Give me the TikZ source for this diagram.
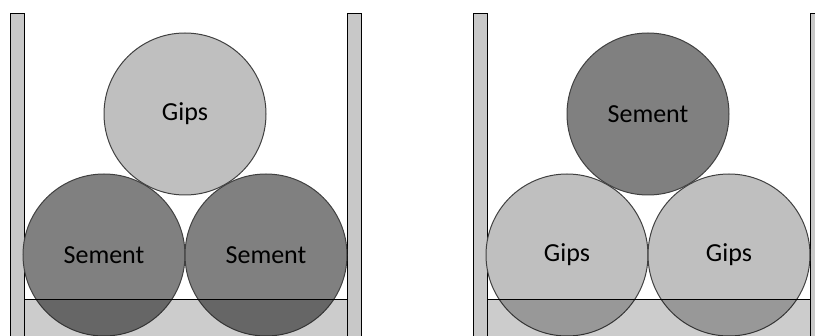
\documentclass[tikz,border=0pt]{standalone}
\usepackage{fontspec}
\setmainfont{Carlito}
\usetikzlibrary{positioning}
\definecolor{wallgray}{RGB}{200,200,200}
\definecolor{sementgray}{RGB}{128,128,128}
\definecolor{gipsgray}{RGB}{191,191,191}
\definecolor{rimgray}{RGB}{64,64,64}
\tikzset{
  wall/.style={draw=black, fill=wallgray, line width=1pt},
  ball/.style={circle, draw=rimgray, line width=1pt, minimum size=162pt,
    inner sep=0pt, font=\fontsize{26}{30}\selectfont},
  sement/.style={ball, fill=sementgray},
  gips/.style={ball, fill=gipsgray},
  water/.style={fill=black, fill opacity=0.2},
}
\begin{document}
\begin{tikzpicture}[x=1pt,y=-1pt]
  \useasboundingbox (0,0) rectangle (815,336);
  \clip (0,0) rectangle (815,336);
  % left beaker: gips on top
  \draw[wall] (10,14) rectangle (24,345);
  \draw[wall] (347,14) rectangle (361,345);
  \node[gips] (topL) at (185,114) {Gips};
  \node[sement] (leftL) at (104,255) {Sement};
  \node[sement] (rightL) at (266,255) {Sement};
  \coordinate (surfLa) at (24,299.5);
  \coordinate (surfLb) at (347,299.5);
  \fill[water] (surfLa) rectangle (347,345);
  \draw (surfLa) -- (surfLb);
  % right beaker: sement on top
  \begin{scope}[xshift=463pt]
    \draw[wall] (10,14) rectangle (24,345);
    \draw[wall] (347,14) rectangle (361,345);
    \node[sement] (topR) at (185,114) {Sement};
    \node[gips] (leftR) at (104,255) {Gips};
    \node[gips] (rightR) at (266,255) {Gips};
    \coordinate (surfRa) at (24,299.5);
    \coordinate (surfRb) at (347,299.5);
    \fill[water] (surfRa) rectangle (347,345);
    \draw (surfRa) -- (surfRb);
  \end{scope}
\end{tikzpicture}
\end{document}
